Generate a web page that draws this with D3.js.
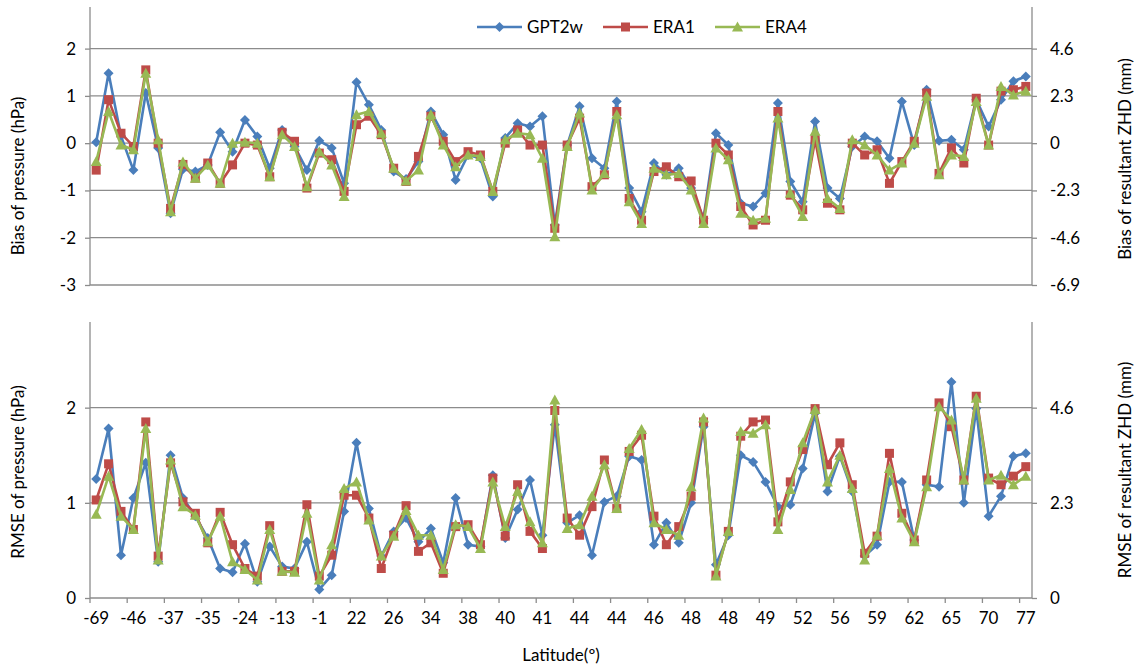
<!DOCTYPE html>
<html>
<head>
<meta charset="utf-8">
<title>Bias and RMSE of pressure</title>
<script src="https://d3js.org/d3.v7.min.js"></script>
<style>
  body { margin: 0; background: #fff; }
  svg text { font-family: Lato, "Liberation Sans", sans-serif; fill: #000; }
</style>
</head>
<body>
<div id="chart"></div>
<script>
// latitude labels shown on the category axis (every 3rd station)
var latLabels = ["-69","-46","-37","-35","-24","-13","-1","22","26","34","38","40","41",
                 "44","44","46","48","48","49","52","56","59","62","65","70","77"];

var seriesNames = ["GPT2w", "ERA1", "ERA4"];

// bias of pressure (hPa), one value per station
var biasGPT2w = [0.02,1.48,0.15,-0.57,1.06,-0.1,-1.48,-0.55,-0.6,-0.46,
  0.23,-0.18,0.49,0.14,-0.53,0.28,-0.07,-0.57,0.05,-0.1,
  -0.85,1.29,0.81,0.28,-0.6,-0.76,-0.39,0.67,0.18,-0.78,
  -0.25,-0.32,-1.13,0.11,0.42,0.35,0.57,-1.73,-0.04,0.78,
  -0.32,-0.53,0.88,-0.95,-1.45,-0.42,-0.67,-0.53,-0.95,-1.59,
  0.21,-0.04,-1.27,-1.34,-1.06,0.85,-0.81,-1.24,0.46,-0.95,
  -1.17,-0.07,0.14,0.04,-0.32,0.88,-0.04,1.13,0.05,0.07,
  -0.14,0.92,0.35,0.92,1.31,1.41];
var biasERA1 = [-0.57,0.92,0.21,-0.07,1.55,0,-1.38,-0.45,-0.74,-0.42,
  -0.85,-0.46,0,-0.04,-0.71,0.23,0.04,-0.95,-0.21,-0.35,
  -1.02,0.39,0.57,0.18,-0.53,-0.81,-0.28,0.57,0.04,-0.39,
  -0.18,-0.25,-1.02,0,0.28,-0.04,-0.04,-1.8,-0.04,0.53,
  -0.92,-0.67,0.67,-1.17,-1.63,-0.6,-0.5,-0.71,-0.8,-1.63,
  0,-0.25,-1.34,-1.73,-1.63,0.67,-1.1,-1.41,0.07,-1.27,
  -1.41,0,-0.25,-0.14,-0.85,-0.39,0.04,1.06,-0.64,-0.1,
  -0.42,0.95,-0.04,1.1,1.13,1.2];
var biasERA4 = [-0.39,0.67,-0.04,-0.14,1.48,0.07,-1.45,-0.4,-0.74,-0.46,
  -0.85,0,0.02,0,-0.71,0.18,-0.07,-0.92,-0.18,-0.46,
  -1.13,0.6,0.67,0.21,-0.53,-0.8,-0.57,0.6,-0.04,-0.5,
  -0.25,-0.28,-1.02,0.07,0.21,0.18,-0.32,-1.98,-0.07,0.64,
  -0.99,-0.64,0.6,-1.24,-1.7,-0.53,-0.67,-0.64,-0.99,-1.7,
  -0.1,-0.35,-1.48,-1.63,-1.59,0.53,-1.06,-1.55,0.25,-1.17,
  -1.38,0.07,-0.04,-0.25,-0.57,-0.42,0,0.99,-0.67,-0.25,
  -0.28,0.88,-0.04,1.2,1.02,1.1];

// RMSE of pressure (hPa)
var rmseGPT2w = [1.25,1.78,0.45,1.05,1.42,0.38,1.5,1.05,0.86,0.63,
  0.31,0.27,0.57,0.17,0.54,0.33,0.31,0.59,0.09,0.24,
  0.91,1.63,0.94,0.44,0.7,0.84,0.59,0.73,0.37,1.05,
  0.56,0.54,1.29,0.63,0.93,1.24,0.66,1.82,0.79,0.87,
  0.45,1.01,1.07,1.49,1.45,0.56,0.79,0.58,1.0,1.8,
  0.35,0.66,1.5,1.43,1.22,0.96,0.98,1.36,1.94,1.12,
  1.49,1.12,0.44,0.56,1.22,1.22,0.61,1.19,1.17,2.27,
  1.0,1.99,0.86,1.07,1.49,1.52];
var rmseERA1 = [1.03,1.41,0.91,0.72,1.85,0.44,1.42,1.01,0.89,0.58,
  0.9,0.56,0.31,0.23,0.76,0.28,0.28,0.98,0.23,0.45,
  1.08,1.08,0.84,0.31,0.66,0.97,0.49,0.58,0.26,0.75,
  0.77,0.56,1.26,0.65,1.19,0.7,0.52,1.97,0.84,0.66,
  0.96,1.45,0.94,1.54,1.71,0.86,0.56,0.75,1.07,1.85,
  0.24,0.7,1.7,1.85,1.87,0.8,1.22,1.56,1.99,1.4,
  1.63,1.19,0.47,0.65,1.52,0.89,0.61,1.24,2.05,1.8,
  1.24,2.12,1.26,1.19,1.28,1.38];
var rmseERA4 = [0.88,1.28,0.86,0.72,1.78,0.4,1.45,0.96,0.87,0.59,
  0.86,0.38,0.3,0.19,0.72,0.28,0.27,0.89,0.19,0.56,
  1.15,1.22,0.82,0.44,0.65,0.92,0.66,0.66,0.3,0.77,
  0.75,0.52,1.22,0.75,1.12,0.8,0.58,2.08,0.73,0.77,
  1.07,1.4,0.94,1.57,1.77,0.79,0.72,0.66,1.17,1.89,
  0.23,0.7,1.75,1.73,1.82,0.72,1.14,1.63,1.98,1.22,
  1.5,1.15,0.4,0.66,1.36,0.84,0.59,1.17,2.01,1.87,
  1.24,2.1,1.24,1.29,1.19,1.28];

var biasTicks = [2, 1, 0, -1, -2, -3];
var biasZhdTicks = [4.6, 2.3, 0, -2.3, -4.6, -6.9];
var rmseTicks = [0, 1, 2];
var rmseZhdTicks = [0, 2.3, 4.6];

var colors = ["#4a7ebb", "#be4b48", "#98b954"];
var gridCol = "#8c8c8c";

var W = 1138, H = 667;
var left = 90, right = 1032;

var svg = d3.select("#chart").append("svg")
  .attr("width", W).attr("height", H);

var n = biasGPT2w.length;
var x = d3.scaleBand().domain(d3.range(n)).range([left, right]);
function cx(i) { return x(i) + x.bandwidth() / 2; }

function marker(g, k, px, py) {
  if (k == 0) {
    g.append("path").attr("d", "M" + px + "," + (py - 5) + "L" + (px + 5) + "," + py +
      "L" + px + "," + (py + 5) + "L" + (px - 5) + "," + py + "Z")
      .style("fill", colors[0]);
  } else if (k == 1) {
    g.append("rect").attr("x", px - 4.5).attr("y", py - 4.5)
      .attr("width", 9).attr("height", 9).style("fill", colors[1]);
  } else {
    g.append("path").attr("d", "M" + px + "," + (py - 5.5) + "L" + (px + 5.5) + "," + (py + 4.5) +
      "L" + (px - 5.5) + "," + (py + 4.5) + "Z")
      .style("fill", colors[2]);
  }
}

function panel(top, bottom, domain, ticks, zhdTicks, series, leftTitle, rightTitle, titleY, showX) {
  var y = d3.scaleLinear().domain(domain).range([bottom, top]);
  var y2 = d3.scaleLinear().domain([domain[0] * 2.3, domain[1] * 2.3]).range([bottom, top]);

  // gridlines
  svg.append("g").selectAll("line").data(ticks).enter().append("line")
    .attr("x1", left).attr("x2", right)
    .attr("y1", function(d) { return y(d); }).attr("y2", function(d) { return y(d); })
    .style("stroke", gridCol).style("stroke-width", 1.3);

  var ax = svg.append("g").attr("transform", "translate(" + left + ",0)")
    .call(d3.axisLeft(y).tickValues(ticks).tickSize(5).tickPadding(9)
      .tickFormat(function(d) { return String(d); }));
  var ax2 = svg.append("g").attr("transform", "translate(" + right + ",0)")
    .call(d3.axisRight(y2).tickValues(zhdTicks).tickSize(5).tickPadding(13)
      .tickFormat(function(d) { return d == 0 ? "0" : d.toFixed(1); }));
  [ax, ax2].forEach(function(a) {
    a.select(".domain").attr("d", null);
    a.selectAll(".tick line").style("stroke", gridCol).style("stroke-width", 1.3);
    a.selectAll(".tick text").style("font-size", "17px").style("fill", "#000");
  });
  svg.append("line").attr("x1", left).attr("x2", left).attr("y1", top).attr("y2", bottom)
    .style("stroke", gridCol).style("stroke-width", 1.3);
  svg.append("line").attr("x1", right).attr("x2", right).attr("y1", top).attr("y2", bottom)
    .style("stroke", gridCol).style("stroke-width", 1.3);

  if (showX) {
    var xa = svg.append("g").attr("transform", "translate(0," + bottom + ")")
      .call(d3.axisBottom(x).tickValues(d3.range(0, n, 3)).tickSize(0).tickPadding(14)
        .tickFormat(function(d) { return latLabels[d / 3]; }));
    xa.select(".domain").remove();
    xa.selectAll(".tick text").style("font-size", "17px").style("fill", "#000");
    var tk = d3.range(0, n, 3).map(function(d) { return x(d); });
    svg.append("g").selectAll("line").data(tk).enter().append("line")
      .attr("x1", function(d) { return d; }).attr("x2", function(d) { return d; })
      .attr("y1", bottom).attr("y2", bottom + 5)
      .style("stroke", gridCol).style("stroke-width", 1.3);
  }

  var line = d3.line().x(function(d, i) { return cx(i); }).y(function(d) { return y(d); });
  series.forEach(function(s, k) {
    var g = svg.append("g");
    g.append("path").datum(s).attr("d", line)
      .style("fill", "none").style("stroke", colors[k]).style("stroke-width", 2.6)
      .style("stroke-linejoin", "round");
    s.forEach(function(v, i) { marker(g, k, cx(i), y(v)); });
  });

  svg.append("text").attr("transform", "translate(24," + titleY[0] + ") rotate(-90)")
    .attr("text-anchor", "middle").style("font-size", "17px").text(leftTitle);
  svg.append("text").attr("transform", "translate(1131," + titleY[1] + ") rotate(-90)")
    .attr("text-anchor", "middle").style("font-size", "17px").text(rightTitle);
}

panel(7, 285, [-3, 2.88], biasTicks, biasZhdTicks, [biasGPT2w, biasERA1, biasERA4],
  "Bias of pressure (hPa)", "Bias of resultant ZHD (mm)", [176, 159], false);
panel(322, 598, [0, 2.9], rmseTicks, rmseZhdTicks, [rmseGPT2w, rmseERA1, rmseERA4],
  "RMSE of pressure (hPa)", "RMSE of resultant ZHD (mm)", [472, 470], true);

svg.append("text").attr("x", (left + right) / 2).attr("y", 661)
  .attr("text-anchor", "middle").style("font-size", "17px").text("Latitude(\u00ba)");

// legend
var legX = [477, 603, 715];
seriesNames.forEach(function(name, k) {
  var g = svg.append("g");
  g.append("line").attr("x1", legX[k]).attr("x2", legX[k] + 45).attr("y1", 27).attr("y2", 27)
    .style("stroke", colors[k]).style("stroke-width", 2.6);
  marker(g, k, legX[k] + 22.5, 27);
  g.append("text").attr("x", legX[k] + 50).attr("y", 33).style("font-size", "17px").text(name);
});
</script>
</body>
</html>
